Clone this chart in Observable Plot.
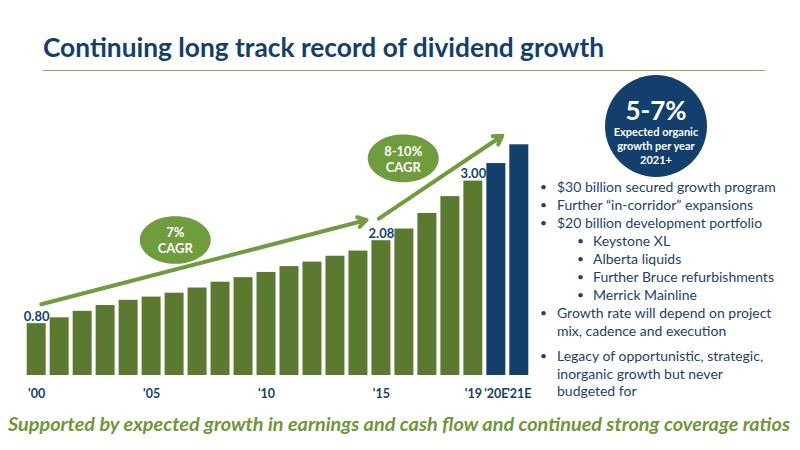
<!DOCTYPE html>
<html>
<head>
<meta charset="utf-8">
<script src="https://cdn.jsdelivr.net/npm/d3@7"></script>
<script src="https://cdn.jsdelivr.net/npm/@observablehq/plot@0.6"></script>
<style>
  html, body { margin: 0; padding: 0; background: #ffffff; }
  #page { position: relative; width: 800px; height: 450px; overflow: hidden; font-family: Lato, "Open Sans", sans-serif; }
  #title { position: absolute; left: 43px; top: 32px; font-size: 26.5px; line-height: 30px; font-weight: 700; color: #12406c; white-space: nowrap; transform-origin: 0 50%; }
  #rule { position: absolute; left: 43px; top: 70px; width: 722px; height: 0; border-top: 1.6px solid #8cab5c; }
  #chart { position: absolute; left: 0; top: 80px; }
  #badge { position: absolute; left: 605px; top: 75px; width: 102px; height: 102px; border-radius: 50%; background: #123f6b; color: #fff; text-align: center; font-weight: 700; }
  #badge div { position: absolute; left: 0; width: 102px; white-space: nowrap; }
  .big { font-size: 26px; line-height: 27px; }
  .small { font-size: 11px; line-height: 13px; }
  .line { position: absolute; font-size: 14px; line-height: 18px; color: #1d3f6a; white-space: nowrap; }
  .dot { position: absolute; font-size: 12px; line-height: 18px; color: #1d3f6a; }
  #caption { position: absolute; left: 8px; top: 413px; font-size: 18px; line-height: 22px; font-weight: 700; font-style: italic; color: #6c9836; white-space: nowrap; transform-origin: 0 50%; }
</style>
</head>
<body>
<div id="page">
  <div id="title">Continuing long track record of dividend growth</div>
  <div id="rule"></div>
  <div id="chart"></div>
  <div id="badge">
    <div class="big" style="top:22px">5-7%</div>
    <div class="small" style="top:50px">Expected organic</div>
    <div class="small" style="top:64px">growth per year</div>
    <div class="small" style="top:77.5px">2021+</div>
  </div>
  <div id="bullets"></div>
  <div id="caption">Supported by expected growth in earnings and cash flow and continued strong coverage ratios</div>
</div>
<script>
// ---- chart data ----
const years = [2000, 2001, 2002, 2003, 2004, 2005, 2006, 2007, 2008, 2009, 2010,
               2011, 2012, 2013, 2014, 2015, 2016, 2017, 2018, 2019, 2020, 2021];
const dividends = [0.80, 0.89, 0.99, 1.08, 1.16, 1.21, 1.27, 1.35, 1.44, 1.51, 1.59,
                   1.68, 1.75, 1.84, 1.92, 2.08, 2.26, 2.50, 2.76, 3.00, 3.27, 3.56];
const estimatedYears = [2020, 2021];
const tickYears = [2000, 2005, 2010, 2015, 2019, 2020, 2021];
const tickLabels = ["'00", "'05", "'10", "'15", "'19", "'20E", "'21E"];
const labelledYears = [2000, 2015, 2019];
// CAGR annotations (position in data units: year, dividend)
const cagrTexts = ["7%\nCAGR", "8-10%\nCAGR"];
const cagrYears = [2006.03, 2015.95];
const cagrValues = [2.09, 3.35];
// trend arrows (data units)
const arrowFromYears = [2000.20, 2014.89];
const arrowFromValues = [1.10, 2.42];
const arrowToYears = [2014.35, 2020.26];
const arrowToValues = [2.40, 3.70];

// ---- side text ----
const bulletLines = [
  {text: "$30 billion secured growth program", level: 0, top: 178},
  {text: "Further \u201cin-corridor\u201d expansions", level: 0, top: 196},
  {text: "$20 billion development portfolio", level: 0, top: 214},
  {text: "Keystone XL", level: 1, top: 232},
  {text: "Alberta liquids", level: 1, top: 250},
  {text: "Further Bruce refurbishments", level: 1, top: 268},
  {text: "Merrick Mainline", level: 1, top: 286},
  {text: "Growth rate will depend on project", level: 0, top: 304},
  {text: "mix, cadence and execution", level: 2, top: 322},
  {text: "Legacy of opportunistic, strategic,", level: 0, top: 347},
  {text: "inorganic growth but never", level: 2, top: 364.5},
  {text: "budgeted for", level: 2, top: 382}
];

const green = "#5b7a2f";
const navy = "#133f6b";
const light = "#6f9c3c";

const data = years.map((year, i) => ({year, value: dividends[i], est: estimatedYears.includes(year)}));
const cagr = cagrTexts.map((text, i) => ({text, year: cagrYears[i], value: cagrValues[i]}));
const arrows = arrowFromYears.map((d, i) => ({x1: d, y1: arrowFromValues[i], x2: arrowToYears[i], y2: arrowToValues[i]}));
const ticks = tickYears.map((year, i) => ({year, label: tickLabels[i]}));

const ellipse = {
  draw(ctx, size) {
    const rx = Math.sqrt(size / Math.PI), ry = rx * 0.67, k = 0.5523;
    ctx.moveTo(rx, 0);
    ctx.bezierCurveTo(rx, ry * k, rx * k, ry, 0, ry);
    ctx.bezierCurveTo(-rx * k, ry, -rx, ry * k, -rx, 0);
    ctx.bezierCurveTo(-rx, -ry * k, -rx * k, -ry, 0, -ry);
    ctx.bezierCurveTo(rx * k, -ry, rx, -ry * k, rx, 0);
    ctx.closePath();
  }
};

const chart = Plot.plot({
  width: 540,
  height: 330,
  marginLeft: 24.7,
  marginRight: 9.7,
  marginTop: 0,
  marginBottom: 35,
  x: {domain: [1999.5, 2021.5], axis: null},
  y: {domain: [0, 4.552], axis: null},
  style: {fontFamily: "Lato, 'Open Sans', sans-serif", background: "transparent", overflow: "visible"},
  marks: [
    Plot.rectY(data.filter(d => !d.est), {x1: d => d.year - 0.413, x2: d => d.year + 0.413, y1: 0, y2: "value", fill: green}),
    Plot.rectY(data.filter(d => d.est), {x1: d => d.year - 0.413, x2: d => d.year + 0.413, y1: 0, y2: "value", fill: navy}),
    Plot.text(data.filter(d => labelledYears.includes(d.year)), {
      x: "year", y: "value", text: d => d.value.toFixed(2), dy: -7,
      fill: navy, fontWeight: "bold", fontSize: 13
    }),
    Plot.text(ticks, {
      x: "year", y: 0, text: "label", dy: 18.3,
      fill: navy, fontWeight: "bold", fontSize: 12.5
    }),
    Plot.arrow(arrows, {
      x1: "x1", y1: "y1", x2: "x2", y2: "y2",
      stroke: light, strokeWidth: 4, headLength: 3.6, headAngle: 62
    }),
    Plot.dot(cagr, {x: "year", y: "value", r: 35.5, symbol: ellipse, fill: light, stroke: "none"}),
    Plot.text(cagr, {
      x: "year", y: "value", text: "text", lineHeight: 1.23,
      fill: "white", fontWeight: "bold", fontSize: 13
    })
  ]
});
document.getElementById("chart").appendChild(chart);

// side bullets
const bullets = document.getElementById("bullets");
for (const b of bulletLines) {
  const textLeft = b.level === 1 ? 593 : 557;
  if (b.level !== 2) {
    const dot = document.createElement("div");
    dot.className = "dot";
    dot.textContent = "\u2022";
    dot.style.left = (b.level === 1 ? 577 : 540) + "px";
    dot.style.top = b.top + "px";
    bullets.appendChild(dot);
  }
  const line = document.createElement("div");
  line.className = "line";
  line.textContent = b.text;
  line.style.left = textLeft + "px";
  line.style.top = b.top + "px";
  bullets.appendChild(line);
}

function fit(id, target) {
  const el = document.getElementById(id);
  el.style.display = "inline-block";
  const w = el.getBoundingClientRect().width;
  el.style.transform = "scaleX(" + (target / w) + ")";
}
fit("title", 561);
fit("caption", 782);
</script>
</body>
</html>
